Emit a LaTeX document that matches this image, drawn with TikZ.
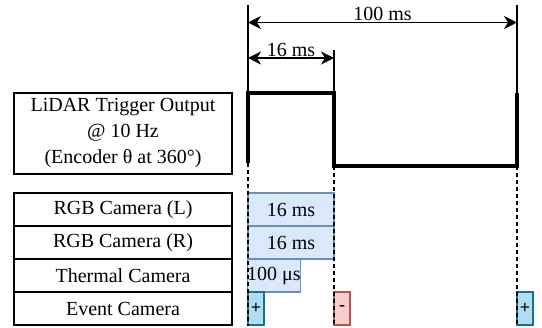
\documentclass[tikz,border=0pt]{standalone}
\usepackage{fontspec}
\setmainfont{Liberation Serif}
\usetikzlibrary{arrows.meta}
\definecolor{bfill}{HTML}{DAE8FC}
\definecolor{bline}{HTML}{6C8EBF}
\definecolor{efill}{HTML}{B1DDF0}
\definecolor{eline}{HTML}{10739E}
\definecolor{rfill}{HTML}{F8CECC}
\definecolor{rline}{HTML}{B85450}
\tikzset{
  lbl/.style={draw=black, line width=1.5pt, inner sep=0pt, minimum width=218pt, align=center},
  rowbox/.style={lbl, minimum height=33pt},
  expbox/.style={draw=bline, fill=bfill, line width=1.2pt, inner sep=0pt, minimum height=33pt},
  evbox/.style={line width=1.2pt, inner sep=0pt, minimum height=33pt, minimum width=16pt, font=\fontsize{18}{20}\selectfont\bfseries},
  posbox/.style={evbox, draw=eline, fill=efill},
  negbox/.style={evbox, draw=rline, fill=rfill},
  sig/.style={line width=4pt, line join=miter},
  guide/.style={line width=1.2pt},
  dim/.style={line width=1.3pt, {Stealth[length=13pt,width=13pt,inset=4pt]}-{Stealth[length=13pt,width=13pt,inset=4pt]}},
  dashline/.style={line width=1.5pt, dash pattern=on 4pt off 3pt}
}
\begin{document}
\begin{tikzpicture}[x=1pt,y=-1pt,font=\fontsize{20}{26}\selectfont]
\useasboundingbox (0,0) rectangle (542,328);
% labels
\node[lbl, minimum height=81pt] (lidar) at (123,133.5) {LiDAR Trigger Output\\@ 10 Hz\\(Encoder θ at 360°)};
\node[rowbox] (rgbl) at (123,209.5) {RGB Camera (L)};
\node[rowbox] (rgbr) at (123,242.5) {RGB Camera (R)};
\node[rowbox] (therm) at (123,275.5) {Thermal Camera};
\node[rowbox] (event) at (123,308.5) {Event Camera};
% exposure boxes
\node[expbox, minimum width=86pt] (el) at (291,209.5) {16 ms};
\node[expbox, minimum width=86pt] (er) at (291,242.5) {16 ms};
\node[expbox, minimum width=52pt] (et) at (274,275.5) {100 μs};
\node[posbox] (ev1) at (256,308.5) {+};
\node[negbox] (ev2) at (342,308.5) {-};
\node[posbox] (ev3) at (525,308.5) {+};
% signal
\coordinate (a0) at (248,163);
\coordinate (a1) at (248,93);
\coordinate (b1) at (334,93);
\coordinate (b0) at (334,166);
\coordinate (c0) at (517,166);
\coordinate (c1) at (517,93);
\draw[sig] (a0) -- (a1) -- (b1) -- (b0) -- (c0) -- (c1);
% guides
\coordinate (ga) at (248,5);
\coordinate (gc) at (517,5);
\coordinate (gb) at (334,50);
\draw[guide] (ga) -- (a1);
\draw[guide] (gc) -- (c1);
\draw[guide] (gb) -- (b1);
% dimensions
\coordinate (d1a) at (248,22.5);
\coordinate (d1b) at (517,22.5);
\coordinate (d2a) at (248,58);
\coordinate (d2b) at (334,58);
\draw[dim] (d1a) -- node[above=-2pt] (t100) {100 ms} (d1b);
\draw[dim] (d2a) -- node[above=-3pt] (t16) {16 ms} (d2b);
% dashed
\coordinate (ea) at (248,326);
\coordinate (eb) at (334,326);
\coordinate (ec) at (517,326);
\draw[dashline] (a0) -- (ea);
\draw[dashline] (b0) -- (eb);
\draw[dashline] (c0) -- (ec);
\end{tikzpicture}
\end{document}
